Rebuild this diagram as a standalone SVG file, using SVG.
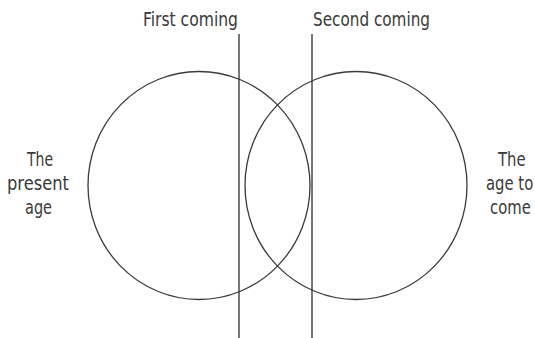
<svg xmlns="http://www.w3.org/2000/svg" width="535" height="338" viewBox="0 0 535 338">
<style>
.bg{fill:#ffffff}
.ring{fill:none;stroke:#3a3a3a;stroke-width:1.3}
.mark{fill:none;stroke:#2e2e2e;stroke-width:1.3}
.lbl{font-family:"Liberation Sans Narrow","DejaVu Sans Condensed","Liberation Sans",Arial,sans-serif;font-size:19.5px;fill:#3a3a3a}
.tall{font-size:16.5px}
</style>
<rect class="bg" x="0" y="0" width="535" height="338"/>
<g id="present-age">
  <ellipse class="ring" cx="199" cy="185.5" rx="111" ry="114"/>
  <text class="lbl" x="27" y="166" textLength="26" lengthAdjust="spacingAndGlyphs">The</text>
  <text class="lbl" x="7" y="190" textLength="62" lengthAdjust="spacingAndGlyphs">present</text>
  <text class="lbl" x="25" y="214" textLength="27" lengthAdjust="spacingAndGlyphs">age</text>
</g>
<g id="age-to-come">
  <ellipse class="ring" cx="356" cy="185.5" rx="111" ry="114"/>
  <text class="lbl tall" transform="translate(498,166) scale(1,1.18)" x="0" y="0">The</text>
  <text class="lbl tall" transform="translate(486,190) scale(1,1.18)" x="0" y="0">age to</text>
  <text class="lbl tall" transform="translate(490,214) scale(1,1.18)" x="0" y="0">come</text>
</g>
<g id="connectors">
  <g id="first-coming">
    <line class="mark" x1="239" y1="34" x2="239" y2="338"/>
    <text class="lbl" x="143" y="26" textLength="95" lengthAdjust="spacingAndGlyphs">First coming</text>
  </g>
  <g id="second-coming">
    <line class="mark" x1="312" y1="34" x2="312" y2="338"/>
    <text class="lbl" x="313" y="26" textLength="117" lengthAdjust="spacingAndGlyphs">Second coming</text>
  </g>
</g>
</svg>
